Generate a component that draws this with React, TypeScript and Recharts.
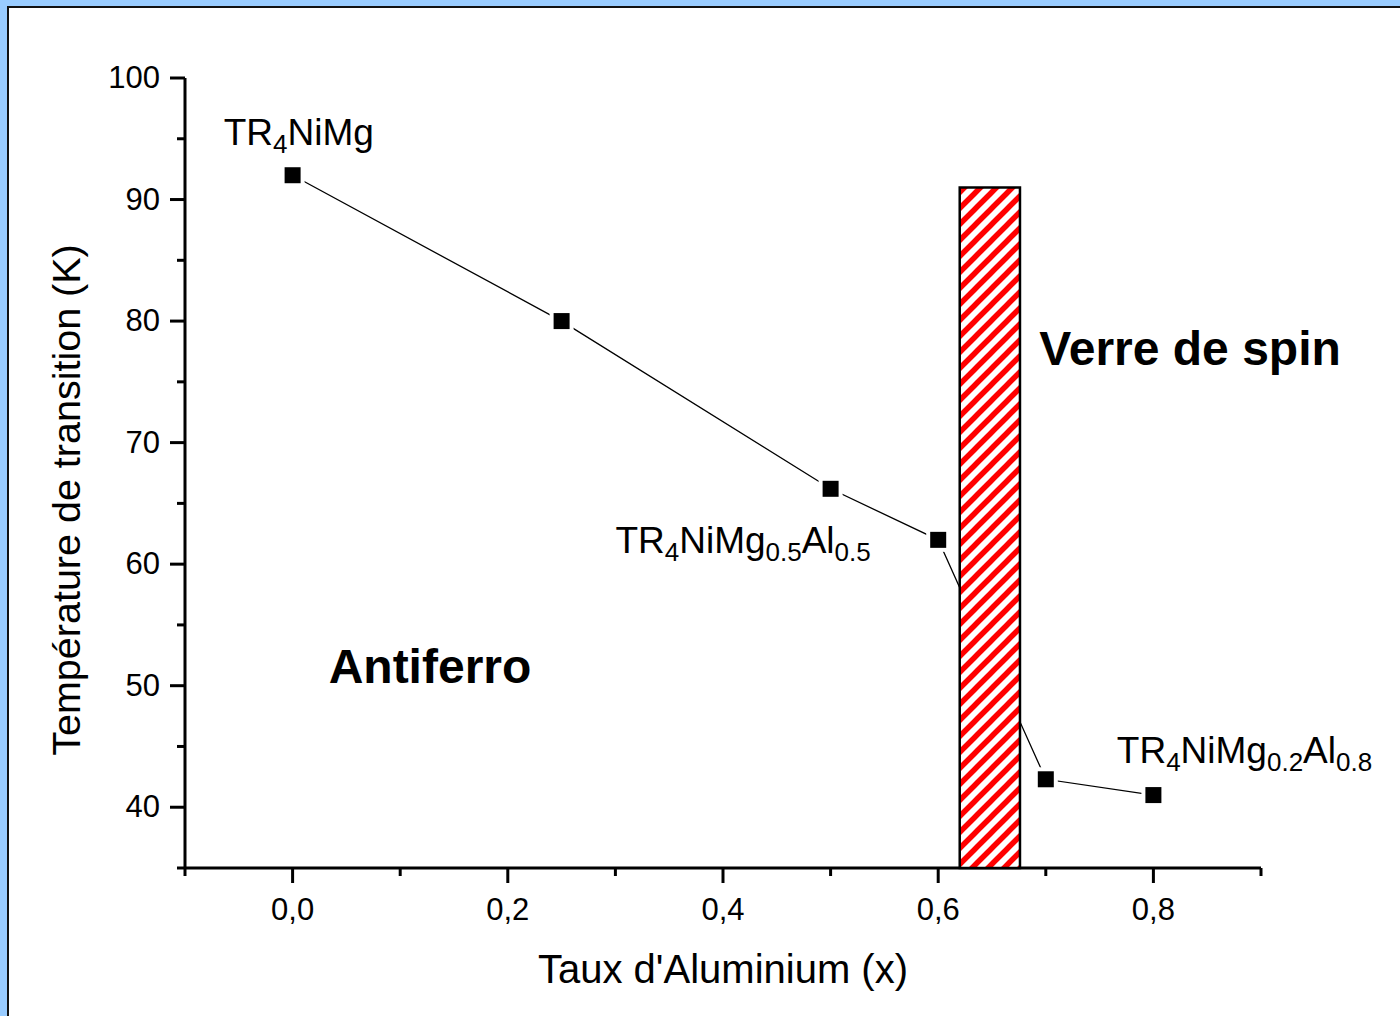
import { ComposedChart, Line, XAxis, YAxis, ReferenceArea, ReferenceDot } from 'recharts'

// measured points: Al fraction x vs. transition temperature (K)
const aluminium = [0, 0.25, 0.5, 0.6, 0.7, 0.8]
const temperature = [92, 80, 66.2, 62, 42.3, 41]

const xTicks = [-0.1, 0, 0.1, 0.2, 0.3, 0.4, 0.5, 0.6, 0.7, 0.8, 0.9]
const yTicks = [35, 40, 45, 50, 55, 60, 65, 70, 75, 80, 85, 90, 95, 100]

// spin-glass boundary band
const bandX = [0.62, 0.676]
const bandTop = 91

const X_DOMAIN: [number, number] = [-0.1, 0.9]
const Y_DOMAIN: [number, number] = [35, 100]

const FONT = '"Liberation Sans", Arial, sans-serif'

const rows = aluminium.map((x, i) => ({ x, t: temperature[i] }))

type Part = { text: string; sub?: boolean }

// annotation anchors are data coordinates (left edge, baseline)
const annotations: Array<{ x: number; y: number; parts: Part[]; bold?: boolean; size: number }> = [
  { x: -0.064, y: 94.5, size: 37, parts: [{ text: 'TR' }, { text: '4', sub: true }, { text: 'NiMg' }] },
  {
    x: 0.3,
    y: 60.9,
    size: 37,
    parts: [{ text: 'TR' }, { text: '4', sub: true }, { text: 'NiMg' }, { text: '0.5', sub: true }, { text: 'Al' }, { text: '0.5', sub: true }],
  },
  {
    x: 0.766,
    y: 43.6,
    size: 37,
    parts: [{ text: 'TR' }, { text: '4', sub: true }, { text: 'NiMg' }, { text: '0.2', sub: true }, { text: 'Al' }, { text: '0.8', sub: true }],
  },
  { x: 0.0335, y: 50.2, size: 48, bold: true, parts: [{ text: 'Antiferro' }] },
  { x: 0.694, y: 76.4, size: 48, bold: true, parts: [{ text: 'Verre de spin' }] },
]

function XTick(props: any) {
  const { x, y, payload } = props
  const v = payload.value as number
  const major = Math.round(v * 10) % 2 === 0
  return (
    <g>
      <line x1={x} x2={x} y1={y} y2={y + (major ? 15 : 8)} stroke="#000" strokeWidth={3} />
      {major && (
        <text x={x} y={y + 52} textAnchor="middle" fontSize={31} fontFamily={FONT} fill="#000">
          {v.toFixed(1).replace('.', ',')}
        </text>
      )}
    </g>
  )
}

function YTick(props: any) {
  const { x, y, payload } = props
  const v = payload.value as number
  const major = v % 10 === 0
  return (
    <g>
      <line x1={x - (major ? 15 : 8)} x2={x} y1={y} y2={y} stroke="#000" strokeWidth={3} />
      {major && (
        <text x={x - 25} y={y + 10} textAnchor="end" fontSize={31} fontFamily={FONT} fill="#000">
          {v}
        </text>
      )}
    </g>
  )
}

function SquareDot(props: any) {
  const { cx, cy } = props
  if (cx == null || cy == null) return null
  return <rect x={cx - 8} y={cy - 8} width={16} height={16} fill="#000" stroke="#fff" strokeWidth={8} paintOrder="stroke" />
}

function annotationLabel(parts: Part[], size: number, bold?: boolean) {
  return (p: any) => {
    const vb = p.viewBox
    let shifted = false
    return (
      <text x={vb.x} y={vb.y} fontSize={size} fontFamily={FONT} fontWeight={bold ? 'bold' : 'normal'} fill="#000">
        {parts.map((part, i) => {
          let dy = 0
          if (part.sub && !shifted) {
            dy = 8
            shifted = true
          } else if (!part.sub && shifted) {
            dy = -8
            shifted = false
          }
          return (
            <tspan key={i} dy={dy} fontSize={part.sub ? 26 : size}>
              {part.text}
            </tspan>
          )
        })}
      </text>
    )
  }
}

function xTitle(p: any) {
  const vb = p.viewBox
  return (
    <text x={vb.x + vb.width / 2} y={vb.y + 115} textAnchor="middle" fontSize={40} fontFamily={FONT} fill="#000">
      Taux d'Aluminium (x)
    </text>
  )
}

function yTitle(p: any) {
  const vb = p.viewBox
  const cx = vb.x + 15
  const cy = vb.y + vb.height / 2 + 27
  return (
    <text x={cx} y={cy} transform={`rotate(-90 ${cx} ${cy})`} textAnchor="middle" fontSize={39.5} fontFamily={FONT} fill="#000">
      Température de transition (K)
    </text>
  )
}

export default function App() {
  return (
    <div style={{ position: 'absolute', left: 0, top: 0, width: 1400, height: 1016, background: '#99ccff', overflow: 'hidden' }}>
      <div
        style={{
          position: 'absolute',
          left: 7,
          top: 6,
          width: 1400,
          height: 1016,
          background: '#fff',
          borderLeft: '2px solid #111',
          borderTop: '2px solid #111',
        }}
      />
      <svg width={0} height={0} style={{ position: 'absolute' }}>
        <defs>
          <pattern id="hatch" patternUnits="userSpaceOnUse" width={16} height={16}>
            <rect width={16} height={16} fill="#fff" />
            <path d="M0,16 L16,0 M-4,4 L4,-4 M12,20 L20,12" stroke="#ff0000" strokeWidth={5.5} />
          </pattern>
        </defs>
      </svg>
      <div style={{ position: 'absolute', left: 0, top: 0 }}>
        <ComposedChart width={1400} height={1016} data={rows} margin={{ top: 78, right: 139, bottom: 0, left: 65 }}>
          <XAxis
            type="number"
            dataKey="x"
            domain={X_DOMAIN}
            ticks={xTicks}
            interval={0}
            allowDataOverflow
            height={148}
            tickSize={0}
            tickMargin={0}
            tickLine={false}
            tick={<XTick />}
            axisLine={{ stroke: '#000', strokeWidth: 3 }}
            label={xTitle}
          />
          <YAxis
            type="number"
            dataKey="t"
            domain={Y_DOMAIN}
            ticks={yTicks}
            interval={0}
            allowDataOverflow
            width={120}
            tickSize={0}
            tickMargin={0}
            tickLine={false}
            tick={<YTick />}
            axisLine={{ stroke: '#000', strokeWidth: 3 }}
            label={yTitle}
          />
          <Line
            type="linear"
            dataKey="t"
            stroke="#000"
            strokeWidth={1.3}
            dot={<SquareDot />}
            activeDot={false}
            isAnimationActive={false}
          />
          {annotations.map((a, i) => (
            <ReferenceDot
              key={i}
              x={a.x}
              y={a.y}
              r={0}
              fill="none"
              stroke="none"
              label={annotationLabel(a.parts, a.size, a.bold)}
            />
          ))}
        </ComposedChart>
      </div>
      {/* overlay chart with the same plot box so the hatched band sits above the line */}
      <div style={{ position: 'absolute', left: 0, top: 0 }}>
        <ComposedChart width={1400} height={1016} data={rows} margin={{ top: 78, right: 139, bottom: 148, left: 185 }}>
          <XAxis type="number" dataKey="x" domain={X_DOMAIN} allowDataOverflow hide />
          <YAxis type="number" dataKey="t" domain={Y_DOMAIN} allowDataOverflow hide />
          <ReferenceArea
            x1={bandX[0]}
            x2={bandX[1]}
            y1={Y_DOMAIN[0]}
            y2={bandTop}
            fill="url(#hatch)"
            fillOpacity={1}
            stroke="#000"
            strokeWidth={2.5}
            ifOverflow="visible"
          />
        </ComposedChart>
      </div>
    </div>
  )
}
